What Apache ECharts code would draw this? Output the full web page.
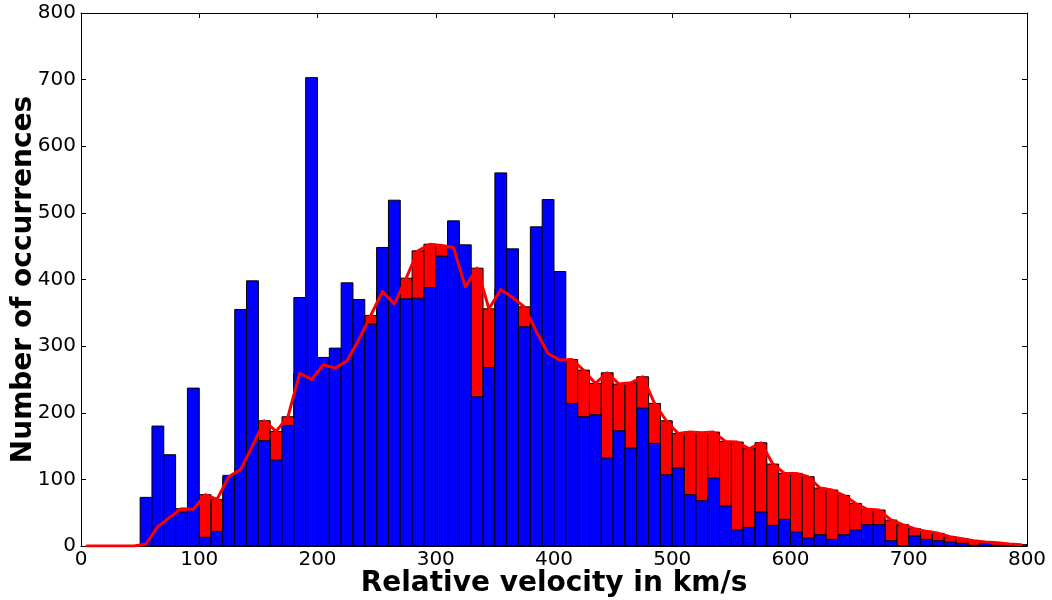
<!DOCTYPE html>
<html>
<head>
<meta charset="utf-8">
<script src="https://cdn.jsdelivr.net/npm/echarts@6/dist/echarts.min.js"></script>
<style>
html,body{margin:0;padding:0;background:#fff;}
#chart{width:1052px;height:600px;}
</style>
</head>
<body>
<div id="chart"></div>
<script>
// Histogram bins: 10 km/s wide, from 0 to 800
const binWidth = 10;
const binCount = 80;
const xTicks = [0, 100, 200, 300, 400, 500, 600, 700, 800];
const yTicks = [0, 100, 200, 300, 400, 500, 600, 700, 800];

// Blue histogram (front)
const blueCounts = [
  0, 0, 0, 0, 0, 73, 180, 137, 51, 237,
  13, 22, 106, 355, 398, 158, 129, 181, 373, 703,
  283, 297, 395, 370, 333, 448, 519, 371, 372, 388,
  435, 488, 452, 224, 268, 560, 446, 329, 479, 520,
  412, 214, 194, 197, 132, 173, 147, 207, 154, 107,
  117, 77, 68, 102, 60, 24, 28, 51, 31, 40,
  21, 12, 17, 10, 17, 24, 32, 32, 8, 0,
  15, 10, 8, 6, 4, 1, 4, 1, 1, 0
];

// Red histogram (behind) and its outline line
const redCounts = [
  0, 0, 0, 0, 0, 3, 29, 43, 56, 55,
  77, 70, 104, 115, 150, 188, 172, 194, 259, 250,
  272, 267, 278, 310, 346, 382, 363, 402, 443, 453,
  451, 448, 389, 417, 356, 385, 373, 359, 322, 289,
  279, 280, 264, 244, 260, 243, 245, 254, 214, 188,
  169, 171, 170, 171, 157, 156, 146, 155, 123, 109,
  109, 104, 87, 84, 76, 64, 55, 54, 39, 32,
  26, 22, 19, 14, 11, 8, 6, 5, 3, 2
];

const binStarts = Array.from({length: binCount}, (_, i) => i * binWidth);
const blueData = binStarts.map((s, i) => [s, s + binWidth, blueCounts[i]]);
const redData = binStarts.map((s, i) => [s, s + binWidth, redCounts[i]]);
const redLine = binStarts.map((s, i) => [s + binWidth / 2, redCounts[i]]);

function barRenderer(color) {
  return function (params, api) {
    const x0 = api.value(0), x1 = api.value(1), v = api.value(2);
    if (!(v > 0)) return null;
    const p0 = api.coord([x0, 0]);
    const p1 = api.coord([x1, v]);
    return {
      type: 'rect',
      shape: {x: p0[0], y: p1[1], width: p1[0] - p0[0], height: p0[1] - p1[1]},
      style: {fill: color, stroke: '#000', lineWidth: 1}
    };
  };
}

const font = 'DejaVu Sans';
const chart = echarts.init(document.getElementById('chart'), null, {renderer: 'canvas'});
chart.setOption({
  animation: false,
  backgroundColor: '#fff',
  grid: {left: 81, right: 25, top: 13, bottom: 54, containLabel: false, outerBoundsMode: 'none'},
  xAxis: [{
    type: 'value', min: xTicks[0], max: xTicks[xTicks.length - 1], interval: 100,
    position: 'bottom',
    axisLine: {show: true, onZero: false, lineStyle: {color: '#000', width: 1}},
    axisTick: {show: true, inside: true, length: 5, lineStyle: {color: '#000'}},
    axisLabel: {fontSize: 20, color: '#000', fontFamily: font, margin: 4},
    splitLine: {show: false},
    name: 'Relative velocity in km/s', nameLocation: 'middle', nameGap: 24, nameMoveOverlap: false,
    nameTextStyle: {fontSize: 28, fontWeight: 'bold', color: '#000', fontFamily: font, verticalAlign: 'top'}
  }, {
    type: 'value', min: xTicks[0], max: xTicks[xTicks.length - 1], interval: 100,
    position: 'top',
    axisLine: {show: true, onZero: false, lineStyle: {color: '#000', width: 1}},
    axisTick: {show: true, inside: true, length: 5, lineStyle: {color: '#000'}},
    axisLabel: {show: false},
    splitLine: {show: false}
  }],
  yAxis: [{
    type: 'value', min: yTicks[0], max: yTicks[yTicks.length - 1], interval: 100,
    position: 'left',
    axisLine: {show: true, onZero: false, lineStyle: {color: '#000', width: 1}},
    axisTick: {show: true, inside: true, length: 5, lineStyle: {color: '#000'}},
    axisLabel: {fontSize: 20, color: '#000', fontFamily: font, margin: 5},
    splitLine: {show: false},
    name: 'Number of occurrences', nameLocation: 'middle', nameGap: 43, nameRotate: 90, nameMoveOverlap: false,
    nameTextStyle: {fontSize: 28, fontWeight: 'bold', color: '#000', fontFamily: font}
  }, {
    type: 'value', min: yTicks[0], max: yTicks[yTicks.length - 1], interval: 100,
    position: 'right',
    axisLine: {show: true, onZero: false, lineStyle: {color: '#000', width: 1}},
    axisTick: {show: true, inside: true, length: 5, lineStyle: {color: '#000'}},
    axisLabel: {show: false},
    splitLine: {show: false}
  }],
  series: [{
    name: 'red', type: 'custom', xAxisIndex: 0, yAxisIndex: 0,
    renderItem: barRenderer('#ff0000'), data: redData, z: 1,
    encode: {x: [0, 1], y: 2}
  }, {
    name: 'blue', type: 'custom', xAxisIndex: 0, yAxisIndex: 0,
    renderItem: barRenderer('#0000ff'), data: blueData, z: 2,
    encode: {x: [0, 1], y: 2}
  }, {
    name: 'redline', type: 'line', xAxisIndex: 0, yAxisIndex: 0,
    data: redLine, showSymbol: false, symbol: 'none', z: 3,
    lineStyle: {color: '#ff0000', width: 3, join: 'round', cap: 'round'}
  }]
});
</script>
</body>
</html>
